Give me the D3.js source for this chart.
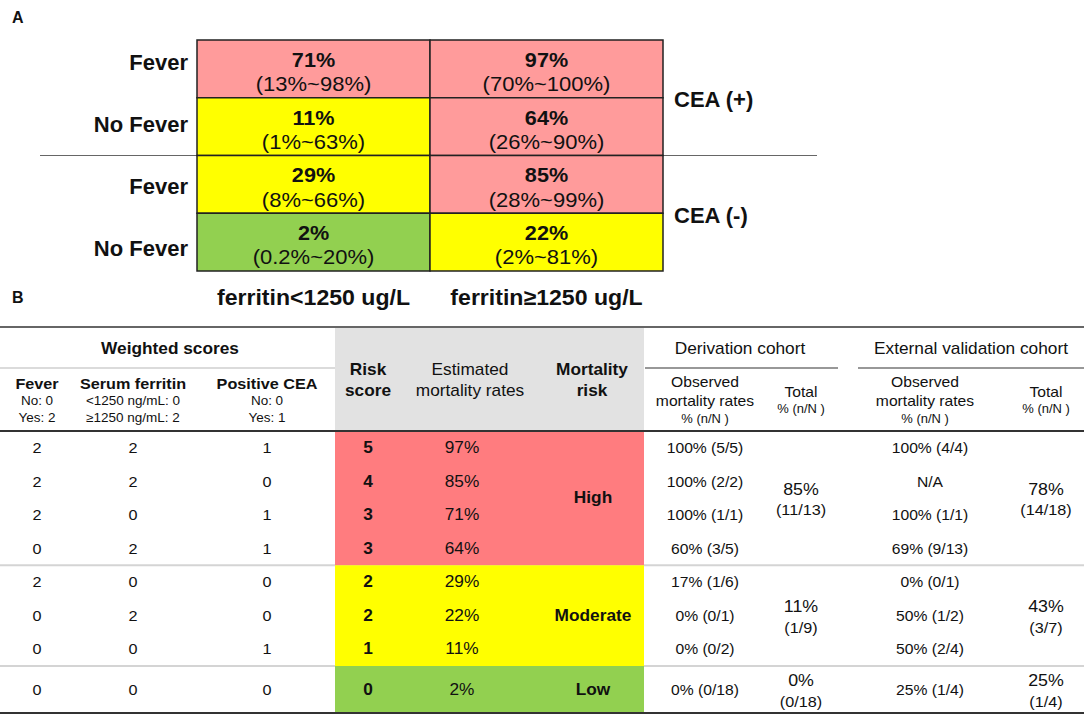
<!DOCTYPE html>
<html>
<head>
<meta charset="utf-8">
<script src="https://cdn.jsdelivr.net/npm/d3@7"></script>
<style>
  html, body { margin: 0; padding: 0; background: #fff; }
  svg { display: block; font-family: "Liberation Sans", Arial, sans-serif; }
</style>
</head>
<body>
<svg id="chart" width="1084" height="718"></svg>
<script>
// ---------------- Panel A data ----------------
const feverLabels = ["Fever", "No Fever", "Fever", "No Fever"];
const ferritinLabels = ["ferritin<1250 ug/L", "ferritin\u22651250 ug/L"];
const ceaLabels = ["CEA (+)", "CEA (-)"];
const gridPct = [[71, 97], [11, 64], [29, 85], [2, 22]];
const gridCI = [["(13%~98%)", "(70%~100%)"], ["(1%~63%)", "(26%~90%)"],
                ["(8%~66%)", "(28%~99%)"], ["(0.2%~20%)", "(2%~81%)"]];
const gridRisk = [["High", "High"], ["Moderate", "High"], ["Moderate", "High"], ["Low", "Moderate"]];

// ---------------- Panel B data ----------------
const feverScore    = [2, 2, 2, 0, 2, 0, 0, 0];
const ferritinScore = [2, 2, 0, 2, 0, 2, 0, 0];
const ceaScore      = [1, 0, 1, 1, 0, 0, 1, 0];
const riskScore     = [5, 4, 3, 3, 2, 2, 1, 0];
const estRate       = [97, 85, 71, 64, 29, 22, 11, 2];
const riskGroup     = ["High", "High", "High", "High", "Moderate", "Moderate", "Moderate", "Low"];
const derivObs = ["100% (5/5)", "100% (2/2)", "100% (1/1)", "60% (3/5)", "17% (1/6)", "0% (0/1)", "0% (0/2)", "0% (0/18)"];
const extObs   = ["100% (4/4)", "N/A", "100% (1/1)", "69% (9/13)", "0% (0/1)", "50% (1/2)", "50% (2/4)", "25% (1/4)"];
const groups = ["High", "Moderate", "Low"];
const derivTotalPct = ["85%", "11%", "0%"];
const derivTotalN   = ["(11/13)", "(1/9)", "(0/18)"];
const extTotalPct   = ["78%", "43%", "25%"];
const extTotalN     = ["(14/18)", "(3/7)", "(1/4)"];

// ---------------- styles ----------------
const colorA = { High: "#ff9b9b", Moderate: "#ffff00", Low: "#92d050" };
const colorB = { High: "#ff7c7f", Moderate: "#ffff00", Low: "#92d050" };

const svg = d3.select("#chart");

function txt(g, x, y, s, o = {}) {
  const sx = o.sx || 1;
  return g.append("text")
    .attr("transform", `translate(${x},${y}) scale(${sx},1)`)
    .attr("text-anchor", o.anchor || "middle")
    .attr("dominant-baseline", "central")
    .attr("font-size", o.size || 16)
    .attr("font-weight", o.bold ? "bold" : "normal")
    .attr("fill", o.fill || "#111")
    .text(s);
}

// ================= PANEL A =================
const gA = svg.append("g");
txt(gA, 12, 17, "A", { anchor: "start", size: 16, bold: true });

const xA = d3.scaleBand().domain([0, 1]).range([197, 663]);
const yA = d3.scaleBand().domain(d3.range(4)).range([40, 271]);
const yLab = d3.scalePoint().domain(d3.range(4)).range([62, 248]);

// separator between CEA groups
gA.append("line")
  .attr("x1", 40).attr("x2", 817)
  .attr("y1", yA(2)).attr("y2", yA(2))
  .attr("stroke", "#666").attr("stroke-width", 1.2);

const cells = [];
gridPct.forEach((row, r) => row.forEach((v, c) => cells.push({ r, c, v, ci: gridCI[r][c], risk: gridRisk[r][c] })));

gA.selectAll("rect.cell").data(cells).join("rect")
  .attr("class", "cell")
  .attr("x", d => xA(d.c)).attr("y", d => yA(d.r))
  .attr("width", xA.bandwidth()).attr("height", yA.bandwidth())
  .attr("fill", d => colorA[d.risk])
  .attr("stroke", "#222").attr("stroke-width", 1.5);

cells.forEach(d => {
  const cx = xA(d.c) + xA.bandwidth() / 2;
  txt(gA, cx, yA(d.r) + 20, d.v + "%", { size: 21, bold: true, sx: 1.03 });
  txt(gA, cx, yA(d.r) + 44, d.ci, { size: 20, sx: 1.1 });
});

feverLabels.forEach((l, i) => txt(gA, 188, yLab(i), l, { anchor: "end", size: 22, bold: true }));
ceaLabels.forEach((l, i) => txt(gA, 674, yA(i * 2 + 1) + 2, l, { anchor: "start", size: 22, bold: true }));
ferritinLabels.forEach((l, i) => txt(gA, xA(i) + xA.bandwidth() / 2, 298, l, { size: 22, bold: true, sx: 1.05 }));

// ================= PANEL B =================
const gB = svg.append("g");
txt(gB, 12, 297, "B", { anchor: "start", size: 16, bold: true });

const SX = 1.08;
const col = { fever: 37, ferr: 133, cea: 267, risk: 368, est: 462, mort: 593, dObs: 705, dTot: 801, eObs: 930, eTot: 1046 };
const colorX0 = 335, colorX1 = 644;

// row scale: each row 1 unit, last (Low) row 1.4 units
const rowUnits = riskScore.map((d, i) => riskGroup[i] === "Low" ? 1.4 : 1);
const cum = [0]; rowUnits.forEach(u => cum.push(cum[cum.length - 1] + u));
const yB = d3.scaleLinear().domain([0, cum[cum.length - 1]]).range([431, 713]);
const rowMid = i => yB(cum[i] + rowUnits[i] / 2);

// group extents
const gExt = groups.map(g => {
  const idx = riskGroup.map((r, i) => r === g ? i : -1).filter(i => i >= 0);
  const a = idx[0], b = idx[idx.length - 1];
  return { g, y0: yB(cum[a]), y1: yB(cum[b + 1]) };
});

// header grey block
gB.append("rect").attr("x", colorX0).attr("y", 328).attr("width", colorX1 - colorX0).attr("height", 103).attr("fill", "#e2e2e2");

// group separators (light)
gExt.slice(1).forEach(e => {
  gB.append("line").attr("x1", 0).attr("x2", 1084).attr("y1", e.y0).attr("y2", e.y0)
    .attr("stroke", "#d4d4d4").attr("stroke-width", 2);
});

// colored blocks
gB.selectAll("rect.grp").data(gExt).join("rect")
  .attr("class", "grp")
  .attr("x", colorX0).attr("y", d => d.y0)
  .attr("width", colorX1 - colorX0).attr("height", d => d.y1 - d.y0)
  .attr("fill", d => colorB[d.g]);

// main rules
gB.append("line").attr("x1", 0).attr("x2", 1084).attr("y1", 327).attr("y2", 327).attr("stroke", "#333").attr("stroke-width", 1.5);
gB.append("line").attr("x1", 0).attr("x2", 1084).attr("y1", 431).attr("y2", 431).attr("stroke", "#333").attr("stroke-width", 2);
gB.append("line").attr("x1", 0).attr("x2", 1084).attr("y1", 713).attr("y2", 713).attr("stroke", "#333").attr("stroke-width", 2);
gB.append("line").attr("x1", 0).attr("x2", colorX0).attr("y1", 368).attr("y2", 368).attr("stroke", "#cfcfcf").attr("stroke-width", 1.5);
gB.append("line").attr("x1", colorX1 + 1).attr("x2", 838).attr("y1", 368).attr("y2", 368).attr("stroke", "#333").attr("stroke-width", 1.2);
gB.append("line").attr("x1", 858).attr("x2", 1084).attr("y1", 368).attr("y2", 368).attr("stroke", "#333").attr("stroke-width", 1.2);

// header text
txt(gB, 170, 349, "Weighted scores", { size: 16, bold: true, sx: SX });
txt(gB, col.fever, 384, "Fever", { size: 15, bold: true, sx: SX });
txt(gB, col.fever, 401, "No: 0", { size: 12.5, sx: SX });
txt(gB, col.fever, 418, "Yes: 2", { size: 12.5, sx: SX });
txt(gB, col.ferr, 384, "Serum ferritin", { size: 15, bold: true, sx: SX });
txt(gB, col.ferr, 401, "<1250 ng/mL: 0", { size: 12.5, sx: SX });
txt(gB, col.ferr, 418, "\u22651250 ng/mL: 2", { size: 12.5, sx: SX });
txt(gB, col.cea, 384, "Positive CEA", { size: 15, bold: true, sx: SX });
txt(gB, col.cea, 401, "No: 0", { size: 12.5, sx: SX });
txt(gB, col.cea, 418, "Yes: 1", { size: 12.5, sx: SX });

txt(gB, col.risk, 370, "Risk", { size: 16, bold: true, sx: SX });
txt(gB, col.risk, 391, "score", { size: 16, bold: true, sx: SX });
txt(gB, 470, 370, "Estimated", { size: 16, sx: SX });
txt(gB, 470, 391, "mortality rates", { size: 16, sx: SX });
txt(gB, 592, 370, "Mortality", { size: 16, bold: true, sx: SX });
txt(gB, 592, 391, "risk", { size: 16, bold: true, sx: SX });

txt(gB, 740, 349, "Derivation cohort", { size: 16, sx: SX });
txt(gB, 971, 349, "External validation cohort", { size: 16, sx: SX });
[[col.dObs, col.dTot], [col.eObs - 5, col.eTot]].forEach(([o, t]) => {
  txt(gB, o, 382, "Observed", { size: 14.5, sx: SX });
  txt(gB, o, 401, "mortality rates", { size: 14.5, sx: SX });
  txt(gB, o, 419, "% (n/N )", { size: 12, sx: SX });
  txt(gB, t, 392, "Total", { size: 14.5, sx: SX });
  txt(gB, t, 409, "% (n/N )", { size: 12, sx: SX });
});

// body rows
riskScore.forEach((rs, i) => {
  const y = rowMid(i);
  txt(gB, col.fever, y, feverScore[i], { size: 15, sx: SX });
  txt(gB, col.ferr, y, ferritinScore[i], { size: 15, sx: SX });
  txt(gB, col.cea, y, ceaScore[i], { size: 15, sx: SX });
  txt(gB, col.risk, y, rs, { size: 16, bold: true, sx: SX });
  txt(gB, col.est, y, estRate[i] + "%", { size: 16, sx: SX });
  txt(gB, col.dObs, y, derivObs[i], { size: 14.5, sx: SX });
  txt(gB, col.eObs, y, extObs[i], { size: 14.5, sx: SX });
});

// group-level text
gExt.forEach((e, k) => {
  const m = (e.y0 + e.y1) / 2;
  txt(gB, col.mort, m, e.g, { size: 16, bold: true, sx: SX });
  txt(gB, col.dTot, m - 9, derivTotalPct[k], { size: 16.5, sx: SX });
  txt(gB, col.dTot, m + 12, derivTotalN[k], { size: 15, sx: SX });
  txt(gB, col.eTot, m - 9, extTotalPct[k], { size: 16.5, sx: SX });
  txt(gB, col.eTot, m + 12, extTotalN[k], { size: 15, sx: SX });
});
</script>
</body>
</html>
